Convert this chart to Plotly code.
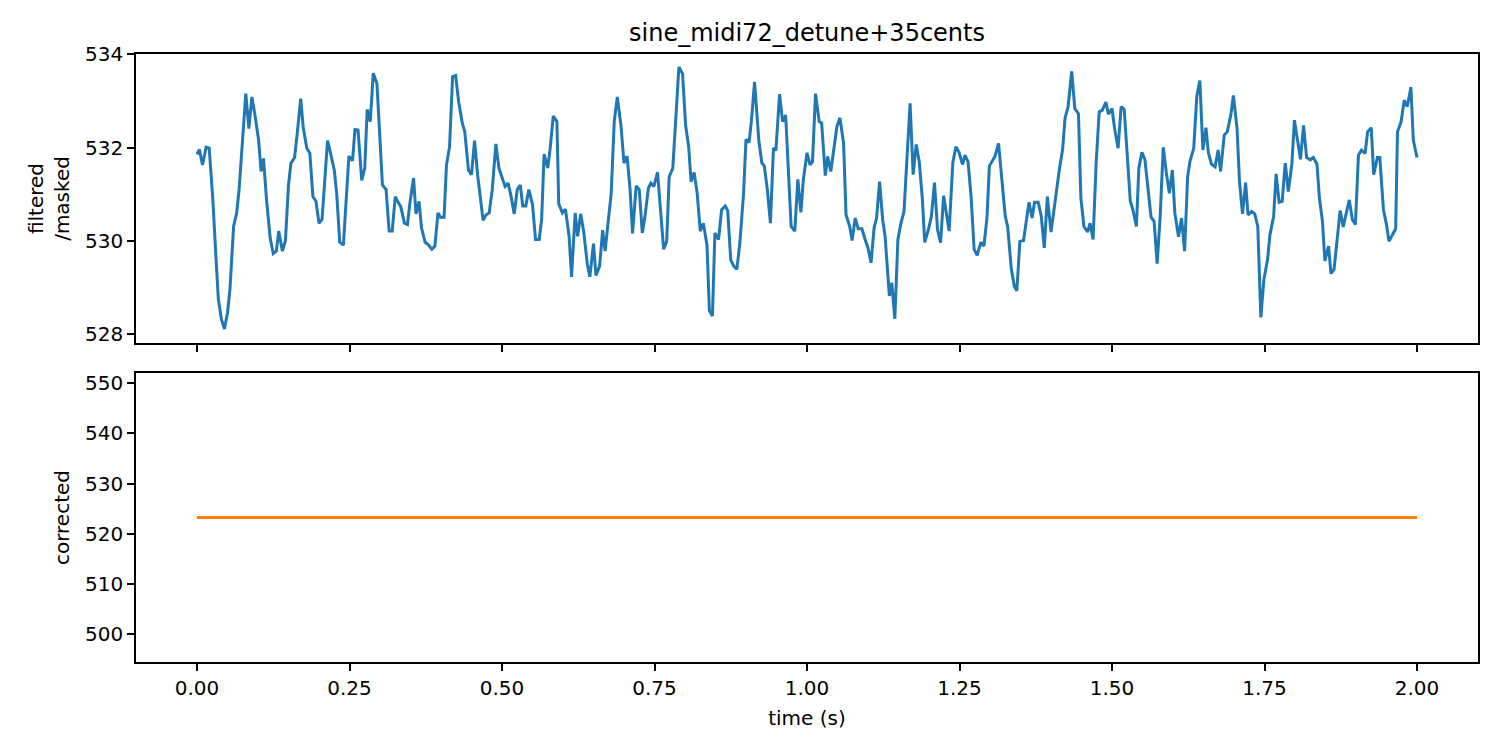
import plotly.graph_objects as go
from plotly.subplots import make_subplots

# pitch track (Hz), top panel
times = [
    0.000, 0.004, 0.009, 0.015, 0.020, 0.026, 0.031, 0.035, 0.040, 0.045,
    0.050, 0.054, 0.060, 0.065, 0.069, 0.074, 0.080, 0.085, 0.090, 0.095,
    0.101, 0.105, 0.109, 0.114, 0.120, 0.125, 0.130, 0.134, 0.140, 0.145,
    0.150, 0.154, 0.160, 0.164, 0.170, 0.174, 0.180, 0.185, 0.190, 0.195,
    0.200, 0.205, 0.210, 0.214, 0.219, 0.225, 0.229, 0.234, 0.240, 0.244,
    0.249, 0.255, 0.259, 0.264, 0.270, 0.275, 0.279, 0.284, 0.289, 0.295,
    0.300, 0.304, 0.310, 0.315, 0.320, 0.325, 0.331,
    0.334, 0.340, 0.345, 0.349, 0.355, 0.359, 0.364, 0.368, 0.374, 0.379,
    0.385, 0.390, 0.395, 0.399, 0.405, 0.409, 0.414, 0.419, 0.424, 0.429,
    0.435, 0.439, 0.445, 0.450, 0.455, 0.460, 0.465, 0.469, 0.474, 0.479,
    0.484, 0.490, 0.495, 0.501, 0.505, 0.510, 0.515, 0.520, 0.525, 0.530,
    0.534, 0.539, 0.544, 0.550, 0.555, 0.561, 0.565, 0.569, 0.575, 0.579,
    0.584, 0.590, 0.593, 0.599, 0.604, 0.610, 0.614, 0.620, 0.624, 0.629,
    0.634, 0.640, 0.644, 0.650, 0.654, 0.660, 0.665,
    0.669, 0.674, 0.679, 0.684, 0.689, 0.695, 0.700, 0.705, 0.710, 0.714,
    0.720, 0.725, 0.730, 0.734, 0.740, 0.744, 0.749, 0.755, 0.759, 0.765,
    0.770, 0.774, 0.780, 0.785, 0.790, 0.796, 0.801, 0.806, 0.810, 0.815,
    0.820, 0.825, 0.830, 0.836, 0.840, 0.845, 0.849, 0.855, 0.860, 0.866,
    0.870, 0.875, 0.880, 0.885, 0.890, 0.896, 0.900, 0.905, 0.909, 0.914,
    0.918, 0.921, 0.926, 0.930, 0.935, 0.940, 0.945, 0.949, 0.955, 0.960,
    0.965, 0.970, 0.974, 0.980, 0.985, 0.990, 0.994, 1.000, 1.005,
    1.009, 1.014, 1.020, 1.024, 1.030, 1.034, 1.039, 1.044, 1.049, 1.054,
    1.060, 1.064, 1.070, 1.074, 1.079, 1.084, 1.090, 1.095, 1.100, 1.105,
    1.110, 1.114, 1.119, 1.124, 1.128, 1.135, 1.139, 1.144, 1.149, 1.154,
    1.159, 1.163, 1.169, 1.174, 1.179, 1.184, 1.189, 1.193, 1.199, 1.204,
    1.209, 1.214, 1.219, 1.224, 1.229, 1.233, 1.239, 1.244, 1.249, 1.255,
    1.259, 1.264, 1.269, 1.274, 1.279, 1.285, 1.290, 1.295, 1.299, 1.304,
    1.308, 1.314, 1.319, 1.325, 1.329, 1.335, 1.340,
    1.344, 1.349, 1.355, 1.359, 1.364, 1.369, 1.373, 1.379, 1.384, 1.389,
    1.394, 1.400, 1.404, 1.409, 1.414, 1.419, 1.423, 1.428, 1.434, 1.439,
    1.445, 1.449, 1.454, 1.460, 1.464, 1.469, 1.474, 1.479, 1.484, 1.490,
    1.494, 1.500, 1.504, 1.510, 1.515, 1.520, 1.525, 1.530, 1.534, 1.540,
    1.544, 1.549, 1.554, 1.559, 1.564, 1.569, 1.574, 1.579, 1.584, 1.589,
    1.594, 1.599, 1.603, 1.609, 1.614, 1.619, 1.624, 1.628, 1.634, 1.639,
    1.644, 1.649, 1.654, 1.658, 1.663, 1.669, 1.674,
    1.678, 1.684, 1.689, 1.695, 1.699, 1.705, 1.709, 1.714, 1.719, 1.723,
    1.729, 1.734, 1.739, 1.744, 1.749, 1.755, 1.759, 1.765, 1.769, 1.774,
    1.779, 1.784, 1.789, 1.795, 1.799, 1.804, 1.809, 1.814, 1.819, 1.825,
    1.830, 1.836, 1.840, 1.845, 1.849, 1.855, 1.859, 1.864, 1.869, 1.874,
    1.879, 1.884, 1.889, 1.894, 1.899, 1.904, 1.909, 1.915, 1.919, 1.925,
    1.929, 1.935, 1.939, 1.945, 1.950, 1.954, 1.960, 1.965, 1.968, 1.974,
    1.979, 1.984, 1.990, 1.994, 2.000,
]

filtered = [
    531.86, 531.96, 531.63, 532.01, 531.99, 530.88, 529.67, 528.75, 528.32, 528.11,
    528.46, 528.96, 530.31, 530.60, 531.10, 531.95, 533.16, 532.41, 533.09, 532.70,
    532.16, 531.49, 531.77, 530.88, 530.06, 529.73, 529.78, 530.21, 529.78, 530.01,
    531.20, 531.67, 531.79, 532.27, 533.05, 532.45, 531.99, 531.88, 530.95, 530.85,
    530.38, 530.46, 531.31, 532.15, 531.88, 531.52, 531.02, 529.97, 529.91, 530.81,
    531.82, 531.72, 532.39, 532.38, 531.30, 531.56, 532.82, 532.56, 533.60, 533.37,
    532.23, 531.20, 531.10, 530.21, 530.21, 530.95, 530.80,
    530.74, 530.38, 530.35, 530.81, 531.35, 530.58, 530.85, 530.28, 529.97, 529.92,
    529.82, 529.89, 530.60, 530.51, 530.51, 531.63, 532.02, 533.52, 533.55, 532.98,
    532.52, 532.34, 531.52, 531.42, 532.15, 531.42, 530.88, 530.44, 530.56, 530.60,
    531.10, 532.08, 531.56, 531.35, 531.17, 531.24, 530.95, 530.58, 531.10, 531.20,
    530.75, 530.75, 531.10, 530.78, 530.03, 530.03, 530.46, 531.86, 531.56, 531.99,
    532.68, 532.56, 530.80, 530.60, 530.68, 530.10, 529.23, 530.60, 530.10, 530.58,
    530.19, 529.49, 529.23, 529.94, 529.26, 529.46, 530.23,
    529.78, 530.46, 531.02, 532.56, 533.09, 532.48, 531.67, 531.82, 531.10, 530.16,
    531.18, 531.10, 530.17, 530.49, 531.13, 531.24, 531.17, 531.47, 530.88, 529.82,
    529.99, 531.37, 531.56, 532.66, 533.73, 533.59, 532.48, 532.02, 531.27, 531.47,
    531.02, 530.21, 530.38, 529.92, 528.50, 528.39, 530.17, 530.03, 530.67, 530.75,
    530.65, 529.59, 529.46, 529.39, 529.96, 531.02, 532.18, 532.11, 532.59, 533.41,
    532.66, 532.16, 531.67, 531.61, 531.10, 530.38, 531.99, 531.94, 533.15, 532.56,
    532.70, 531.24, 530.31, 530.21, 531.32, 530.61, 531.31, 531.89, 531.63,
    531.70, 533.16, 532.56, 532.53, 531.40, 531.81, 531.49, 531.95, 532.45, 532.64,
    532.09, 530.56, 530.31, 530.01, 530.49, 530.26, 530.26, 530.04, 529.85, 529.53,
    530.28, 530.49, 531.27, 530.46, 530.10, 528.82, 529.10, 528.33, 530.03, 530.38,
    530.63, 531.56, 532.95, 531.42, 532.07, 531.70, 530.92, 529.97, 530.24, 530.53,
    531.25, 530.24, 529.96, 530.97, 530.53, 530.21, 531.67, 532.02, 531.91, 531.64,
    531.84, 531.70, 530.95, 529.82, 529.69, 529.97, 529.89, 530.49, 531.61, 531.74,
    531.81, 532.09, 531.31, 530.53, 530.30, 529.39, 529.02,
    528.93, 529.99, 530.01, 530.38, 530.83, 530.49, 530.83, 530.83, 530.53, 529.85,
    530.95, 530.19, 530.60, 531.02, 531.56, 531.96, 532.63, 532.88, 533.64, 532.84,
    532.73, 530.92, 530.31, 530.19, 530.38, 530.03, 531.67, 532.77, 532.80, 532.98,
    532.72, 532.84, 532.43, 531.99, 532.88, 532.82, 531.70, 530.85, 530.68, 530.31,
    531.56, 531.90, 531.74, 531.06, 530.51, 530.42, 529.51, 530.53, 532.01, 531.47,
    531.02, 531.52, 530.60, 530.09, 530.49, 529.78, 531.38, 531.72, 531.99, 533.10,
    533.44, 531.95, 532.43, 531.89, 531.65, 531.59, 531.95,
    531.49, 532.27, 532.34, 532.72, 533.12, 532.41, 531.27, 530.58, 531.25, 530.56,
    530.63, 530.58, 530.31, 528.36, 529.17, 529.60, 530.14, 530.53, 531.44, 530.83,
    530.85, 531.67, 531.06, 531.67, 532.59, 532.13, 531.75, 532.48, 531.79, 531.74,
    531.79, 531.65, 530.92, 530.42, 529.57, 529.89, 529.30, 529.39, 530.06, 530.65,
    530.30, 530.61, 530.88, 530.46, 530.35, 531.84, 531.95, 531.88, 532.34, 532.43,
    531.42, 531.79, 531.79, 530.67, 530.35, 529.99, 530.14, 530.26, 532.34, 532.56,
    533.02, 532.88, 533.30, 532.16, 531.79,
]

# corrected track is flat over the whole clip
corrected_times = [0.0, 2.0]
corrected = [523.25, 523.25]

x_ticks = [0.0, 0.25, 0.5, 0.75, 1.0, 1.25, 1.5, 1.75, 2.0]
top_y_ticks = [528, 530, 532, 534]
bottom_y_ticks = [500, 510, 520, 530, 540, 550]

font = dict(family="DejaVu Sans", size=20, color="black")

fig = make_subplots(rows=2, cols=1, shared_xaxes=True)
fig.add_trace(go.Scatter(x=times, y=filtered, mode="lines",
                         line=dict(color="#1f77b4", width=3)), row=1, col=1)
fig.add_trace(go.Scatter(x=corrected_times, y=corrected, mode="lines",
                         line=dict(color="#ff7f0e", width=3)), row=2, col=1)

axis_style = dict(showline=True, mirror=True, linecolor="black", linewidth=1.6,
                  ticks="outside", ticklen=7, tickwidth=1.6, tickcolor="black",
                  showgrid=False, zeroline=False, tickfont=font)

fig.update_xaxes(**axis_style, range=[-0.1, 2.1], tickvals=x_ticks, tickformat=".2f")
fig.update_xaxes(showticklabels=False, row=1, col=1)
fig.update_xaxes(title=dict(text="time (s)", font=font, standoff=12), row=2, col=1)
fig.update_yaxes(**axis_style)
fig.update_yaxes(range=[527.81, 534.01], tickvals=top_y_ticks, domain=[0.5247, 1.0],
                 title=dict(text="filtered<br>/masked", font=font, standoff=10),
                 row=1, col=1)
fig.update_yaxes(range=[494.47, 552.03], tickvals=bottom_y_ticks, domain=[0.0, 0.4753],
                 title=dict(text="corrected", font=font, standoff=10),
                 row=2, col=1)

# the page body adds an 8px offset, so the margins are shifted to compensate
fig.update_layout(
    width=1500, height=750,
    margin=dict(l=128, r=30, t=46, b=96),
    plot_bgcolor="white", paper_bgcolor="white",
    showlegend=False,
    font=font,
    title=dict(text="sine_midi72_detune+35cents", x=0.5, xref="paper",
               y=1 - 25 / 750, yref="container", yanchor="middle",
               font=dict(family="DejaVu Sans", size=24, color="black")),
)

fig.write_html("out.html")
